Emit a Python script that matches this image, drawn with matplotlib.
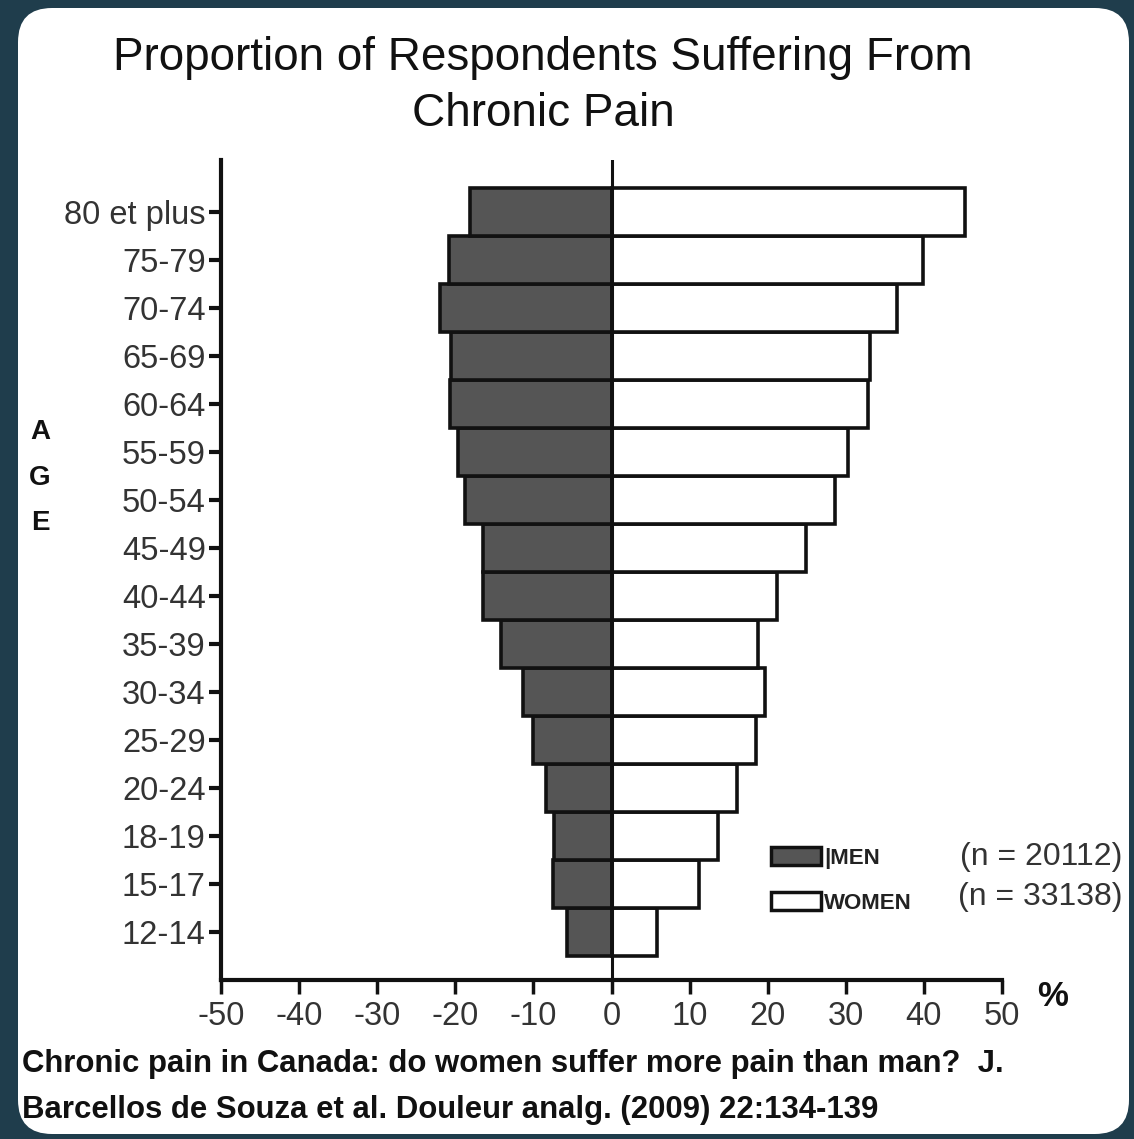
import matplotlib
matplotlib.use('Agg')
import matplotlib.pyplot as plt
from matplotlib.patches import FancyBboxPatch, Patch

# data (percent of respondents)
ages = ['12-14', '15-17', '18-19', '20-24', '25-29', '30-34', '35-39', '40-44',
        '45-49', '50-54', '55-59', '60-64', '65-69', '70-74', '75-79', '80 et plus']
men = [5.7, 7.5, 7.3, 8.4, 10.0, 11.3, 14.2, 16.5,
       16.5, 18.7, 19.7, 20.7, 20.6, 21.9, 20.8, 18.1]
women = [5.8, 11.2, 13.6, 16.1, 18.5, 19.6, 18.7, 21.2,
         24.9, 28.6, 30.3, 32.9, 33.1, 36.5, 39.9, 45.3]
xticks = [-50, -40, -30, -20, -10, 0, 10, 20, 30, 40, 50]
xticklabels = ['-50', '-40', '-30', '-20', '-10', '0', '10', '20', '30', '40', '50']
n_men = 20112
n_women = 33138

W, H = 1134, 1139
regular = ['Liberation Sans', 'DejaVu Sans']

fig = plt.figure(figsize=(W / 100, H / 100), dpi=100)
fig.patch.set_facecolor('#1f3d4c')

def fx(x):
    return x / W

def fy(y):
    return 1 - y / H

# white rounded panel
panel = FancyBboxPatch((fx(18), fy(1134)), 1111 / W, 1126 / H,
                       boxstyle='round,pad=0,rounding_size=0.03',
                       transform=fig.transFigure, fc='white', ec='none', zorder=-5)
fig.patches.append(panel)

ax = fig.add_axes([fx(221), fy(980), fx(1002) - fx(221), fy(160) - fy(980)])
ax.set_facecolor('none')
ax.set_zorder(2)

y = list(range(len(ages)))
ax.barh(y, [-m for m in men], height=1.0, color='#555555', edgecolor='#111111',
        linewidth=2.6, zorder=2)
ax.barh(y, women, height=1.0, color='white', edgecolor='#111111',
        linewidth=2.6, zorder=2)
ax.axvline(0, color='#111111', linewidth=2.2, zorder=3)

ax.set_xlim(-50, 50)
ax.set_ylim(-1.0, 16.08)

for side in ['top', 'right']:
    ax.spines[side].set_visible(False)
for side in ['left', 'bottom']:
    ax.spines[side].set_linewidth(3)
    ax.spines[side].set_color('#111111')

ax.set_yticks(y)
ax.set_yticklabels(ages, family=regular, fontsize=23.5, color='#333333')
ax.set_xticks(xticks)
ax.set_xticklabels(xticklabels, family=regular, fontsize=23.5, color='#333333')
ax.tick_params(axis='y', length=9, width=3, pad=2, color='#111111')
ax.tick_params(axis='x', length=10, width=2.5, pad=5, color='#111111')

# legend
handles = [Patch(fc='#555555', ec='#111111', lw=2.5),
           Patch(fc='white', ec='#111111', lw=2.5)]
leg = ax.legend(handles, ['|MEN', 'WOMEN'], loc='upper left',
                bbox_to_anchor=(fx(760), fy(836)), bbox_transform=fig.transFigure,
                frameon=False, handlelength=2.25, handleheight=0.85,
                handletextpad=0.15, labelspacing=1.05, borderpad=0,
                prop={'family': regular, 'weight': 'bold', 'size': 16})
for t in leg.get_texts():
    t.set_color('#222222')

fig.text(fx(1122), fy(857), f'(n = {n_men})', ha='right', va='center',
         family=regular, fontsize=23, color='#333333')
fig.text(fx(1122), fy(897), f'(n = {n_women})', ha='right', va='center',
         family=regular, fontsize=23, color='#333333')

# title
fig.text(fx(543), fy(86), 'Proportion of Respondents Suffering From\nChronic Pain',
         ha='center', va='center', family=regular, fontsize=33,
         linespacing=1.38, color='#111111')

# vertical AGE label
for letter, ly in zip('AGE', [432, 478, 523]):
    fig.text(fx(40), fy(ly), letter, ha='center', va='center',
             family=regular, weight='bold', fontsize=20, color='#111111')

fig.text(fx(1053), fy(997), '%', ha='center', va='center',
         family=regular, weight='bold', fontsize=25, color='#111111')

# citation
fig.text(fx(22), fy(1064), 'Chronic pain in Canada: do women suffer more pain than man?  J.',
         ha='left', va='center', family=regular, weight='bold', fontsize=22.4,
         color='#111111')
fig.text(fx(22), fy(1110), 'Barcellos de Souza et al. Douleur analg. (2009) 22:134-139',
         ha='left', va='center', family=regular, weight='bold', fontsize=22.4,
         color='#111111')

fig.savefig('out.png', dpi=100, facecolor=fig.get_facecolor())
